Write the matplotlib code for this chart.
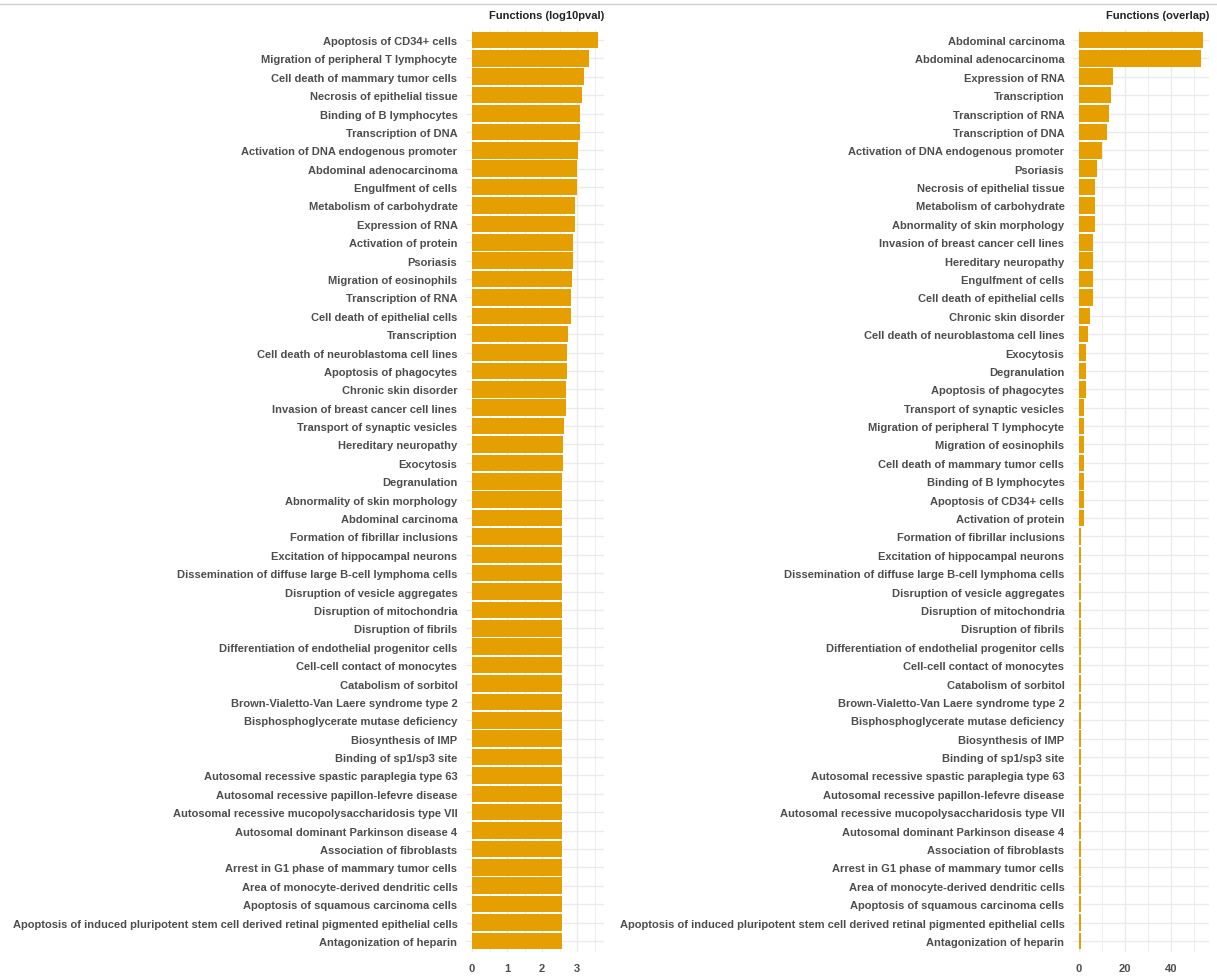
import matplotlib
matplotlib.use("Agg")
import numpy as np
from matplotlib import pyplot as plt
from matplotlib.lines import Line2D

# left panel: -log10 p-values, top to bottom
pval_labels = [
    "Apoptosis of CD34+ cells",
    "Migration of peripheral T lymphocyte",
    "Cell death of mammary tumor cells",
    "Necrosis of epithelial tissue",
    "Binding of B lymphocytes",
    "Transcription of DNA",
    "Activation of DNA endogenous promoter",
    "Abdominal adenocarcinoma",
    "Engulfment of cells",
    "Metabolism of carbohydrate",
    "Expression of RNA",
    "Activation of protein",
    "Psoriasis",
    "Migration of eosinophils",
    "Transcription of RNA",
    "Cell death of epithelial cells",
    "Transcription",
    "Cell death of neuroblastoma cell lines",
    "Apoptosis of phagocytes",
    "Chronic skin disorder",
    "Invasion of breast cancer cell lines",
    "Transport of synaptic vesicles",
    "Hereditary neuropathy",
    "Exocytosis",
    "Degranulation",
    "Abnormality of skin morphology",
    "Abdominal carcinoma",
    "Formation of fibrillar inclusions",
    "Excitation of hippocampal neurons",
    "Dissemination of diffuse large B-cell lymphoma cells",
    "Disruption of vesicle aggregates",
    "Disruption of mitochondria",
    "Disruption of fibrils",
    "Differentiation of endothelial progenitor cells",
    "Cell-cell contact of monocytes",
    "Catabolism of sorbitol",
    "Brown-Vialetto-Van Laere syndrome type 2",
    "Bisphosphoglycerate mutase deficiency",
    "Biosynthesis of IMP",
    "Binding of sp1/sp3 site",
    "Autosomal recessive spastic paraplegia type 63",
    "Autosomal recessive papillon-lefevre disease",
    "Autosomal recessive mucopolysaccharidosis type VII",
    "Autosomal dominant Parkinson disease 4",
    "Association of fibroblasts",
    "Arrest in G1 phase of mammary tumor cells",
    "Area of monocyte-derived dendritic cells",
    "Apoptosis of squamous carcinoma cells",
    "Apoptosis of induced pluripotent stem cell derived retinal pigmented epithelial cells",
    "Antagonization of heparin",
]
pval_values = [3.59, 3.33, 3.19, 3.14, 3.09, 3.07, 3.02, 3.00, 2.99, 2.95,
               2.93, 2.89, 2.89, 2.85, 2.84, 2.82, 2.73, 2.70, 2.70, 2.69,
               2.69, 2.63, 2.60, 2.60, 2.58, 2.58, 2.57, 2.57, 2.57, 2.57,
               2.57, 2.57, 2.57, 2.57, 2.57, 2.57, 2.57, 2.57, 2.57, 2.57,
               2.57, 2.57, 2.57, 2.57, 2.57, 2.57, 2.57, 2.57, 2.57, 2.57]

# right panel: overlap counts, top to bottom
overlap_labels = [
    "Abdominal carcinoma",
    "Abdominal adenocarcinoma",
    "Expression of RNA",
    "Transcription",
    "Transcription of RNA",
    "Transcription of DNA",
    "Activation of DNA endogenous promoter",
    "Psoriasis",
    "Necrosis of epithelial tissue",
    "Metabolism of carbohydrate",
    "Abnormality of skin morphology",
    "Invasion of breast cancer cell lines",
    "Hereditary neuropathy",
    "Engulfment of cells",
    "Cell death of epithelial cells",
    "Chronic skin disorder",
    "Cell death of neuroblastoma cell lines",
    "Exocytosis",
    "Degranulation",
    "Apoptosis of phagocytes",
    "Transport of synaptic vesicles",
    "Migration of peripheral T lymphocyte",
    "Migration of eosinophils",
    "Cell death of mammary tumor cells",
    "Binding of B lymphocytes",
    "Apoptosis of CD34+ cells",
    "Activation of protein",
    "Formation of fibrillar inclusions",
    "Excitation of hippocampal neurons",
    "Dissemination of diffuse large B-cell lymphoma cells",
    "Disruption of vesicle aggregates",
    "Disruption of mitochondria",
    "Disruption of fibrils",
    "Differentiation of endothelial progenitor cells",
    "Cell-cell contact of monocytes",
    "Catabolism of sorbitol",
    "Brown-Vialetto-Van Laere syndrome type 2",
    "Bisphosphoglycerate mutase deficiency",
    "Biosynthesis of IMP",
    "Binding of sp1/sp3 site",
    "Autosomal recessive spastic paraplegia type 63",
    "Autosomal recessive papillon-lefevre disease",
    "Autosomal recessive mucopolysaccharidosis type VII",
    "Autosomal dominant Parkinson disease 4",
    "Association of fibroblasts",
    "Arrest in G1 phase of mammary tumor cells",
    "Area of monocyte-derived dendritic cells",
    "Apoptosis of squamous carcinoma cells",
    "Apoptosis of induced pluripotent stem cell derived retinal pigmented epithelial cells",
    "Antagonization of heparin",
]
overlap_values = [54, 53, 15, 14, 13, 12, 10, 8, 7, 7,
                  7, 6, 6, 6, 6, 5, 4, 3, 3, 3,
                  2, 2, 2, 2, 2, 2, 2, 1, 1, 1,
                  1, 1, 1, 1, 1, 1, 1, 1, 1, 1,
                  1, 1, 1, 1, 1, 1, 1, 1, 1, 1]

plt.rcParams['font.family'] = ['Liberation Sans', 'DejaVu Sans']

BAR_COLOR = '#E69F00'
GRID = '#EBEBEB'
TXT = '#4D4D4D'


def draw_panel(ax, labels, values, title, major, minor):
    n = len(labels)
    y = np.arange(n)
    ax.barh(y, values, height=0.9, color=BAR_COLOR, zorder=2)
    ax.set_ylim(n - 1 + 0.6, -0.6)
    vmax = max(values)
    ax.set_xlim(-0.05 * vmax, 1.05 * vmax)
    ax.set_yticks(y, labels)
    ax.set_xticks(major)
    ax.set_xticks(minor, minor=True)
    ax.grid(True, which='major', color=GRID, linewidth=1.0, zorder=0)
    ax.grid(True, which='minor', axis='x', color=GRID, linewidth=0.6, zorder=0)
    for s in ax.spines.values():
        s.set_visible(False)
    ax.tick_params(axis='both', which='both', length=0, colors=TXT)
    ax.tick_params(axis='y', pad=6)
    ax.tick_params(axis='x', pad=8)
    for t in ax.get_yticklabels() + ax.get_xticklabels():
        t.set_fontsize(8)
        t.set_fontweight('bold')
        t.set_color(TXT)
    ax.set_title(title, loc='right', fontsize=8, fontweight='bold',
                 color='#222222', pad=8)


fig = plt.figure(figsize=(12.17, 9.79), dpi=100)
ax1 = fig.add_axes([0.3827, 0.0266, 0.1136, 0.9428])
ax2 = fig.add_axes([0.8815, 0.0266, 0.1122, 0.9428])

draw_panel(ax1, pval_labels, pval_values, 'Functions (log10pval)',
           [0, 1, 2, 3], [0.5, 1.5, 2.5, 3.5])
draw_panel(ax2, overlap_labels, overlap_values, 'Functions (overlap)',
           [0, 20, 40], [10, 30, 50])

# thin grey line across the top
fig.add_artist(Line2D([0, 1], [0.9949, 0.9949], color='#D0D0D0', linewidth=1,
                      transform=fig.transFigure))

fig.savefig('out.png', dpi=100)
